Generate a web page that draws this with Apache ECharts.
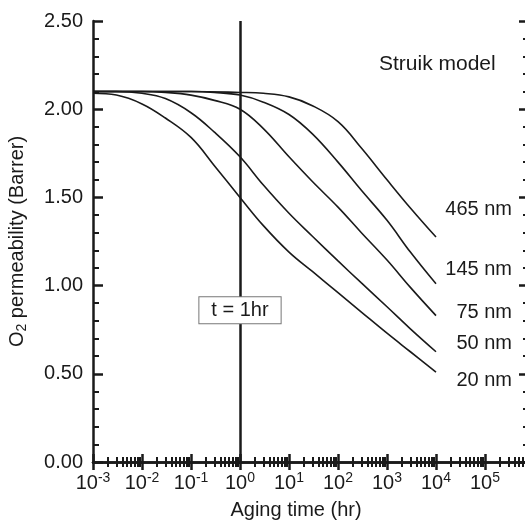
<!DOCTYPE html>
<html>
<head>
<meta charset="utf-8">
<script src="https://cdn.jsdelivr.net/npm/echarts@6/dist/echarts.min.js"></script>
<style>
  html, body { margin: 0; padding: 0; background: #fff; }
  #chart { width: 525px; height: 524px; }
</style>
</head>
<body>
<div id="chart"></div>
<script>
// aging time (hr) and O2 permeability (Barrer)
let time20 = [0.001, 0.003, 0.01, 0.03, 0.1, 0.3, 1, 3, 10, 30, 100, 300, 1000, 3000, 10000];
let perm20 = [2.09, 2.08, 2.03, 1.95, 1.84, 1.68, 1.50, 1.34, 1.19, 1.08, 0.96, 0.85, 0.73, 0.625, 0.51];

let time50 = [0.001, 0.003, 0.01, 0.03, 0.1, 0.3, 1, 3, 10, 30, 100, 300, 1000, 3000, 10000];
let perm50 = [2.10, 2.10, 2.09, 2.06, 1.98, 1.87, 1.73, 1.57, 1.41, 1.28, 1.14, 1.015, 0.88, 0.755, 0.625];

let time75 = [0.001, 0.01, 0.03, 0.1, 0.3, 1, 3, 10, 30, 100, 300, 1000, 3000, 10000];
let perm75 = [2.10, 2.10, 2.095, 2.08, 2.05, 2.0, 1.89, 1.73, 1.59, 1.445, 1.30, 1.145, 0.99, 0.83];

let time145 = [0.001, 0.01, 0.1, 0.3, 1, 3, 10, 30, 100, 300, 1000, 3000, 10000];
let perm145 = [2.10, 2.10, 2.10, 2.095, 2.08, 2.04, 1.97, 1.86, 1.70, 1.54, 1.37, 1.19, 1.01];

let time465 = [0.001, 0.01, 0.1, 1, 3, 10, 30, 100, 300, 1000, 3000, 10000];
let perm465 = [2.10, 2.10, 2.10, 2.095, 2.09, 2.07, 2.02, 1.93, 1.78, 1.60, 1.44, 1.275];

let curveNames = ['20 nm', '50 nm', '75 nm', '145 nm', '465 nm'];
let labelShift = [8, -8, -3, -14, -28];

let xMin = 0.001;
let xMax = 1000000;
let xLabelMax = 100000;
let yTicks = [0, 0.5, 1, 1.5, 2, 2.5];
let markTime = 1;
let markText = 't = 1hr';

let font = '"Liberation Sans", Arial, sans-serif';
let ink = '#1a1a1a';

let myChart = echarts.init(document.getElementById('chart'));

function pairs(xs, ys) {
  let res = [];
  for (let i = 0; i < xs.length; i++) {
    res.push([xs[i], ys[i]]);
  }
  return res;
}

function powLabel(v) {
  let e = Math.log10(v);
  if (Math.abs(e - Math.round(e)) > 1e-6 || v > xLabelMax * 1.001) {
    return '';
  }
  return '{b|10}{s|' + Math.round(e) + '}';
}

let allData = [
  pairs(time20, perm20),
  pairs(time50, perm50),
  pairs(time75, perm75),
  pairs(time145, perm145),
  pairs(time465, perm465)
];

let series = [];
for (let i = 0; i < allData.length; i++) {
  series.push({
    name: curveNames[i],
    type: 'line',
    data: allData[i],
    smooth: 0.4,
    showSymbol: false,
    silent: true,
    lineStyle: { color: ink, width: 1.6 },
    endLabel: {
      show: true,
      formatter: '{a}',
      align: 'right',
      offset: [68, labelShift[i]],
      color: ink,
      fontSize: 20,
      fontFamily: font
    }
  });
}

// vertical line at t = 1 hr with its boxed note
series[0].markLine = {
  silent: true,
  symbol: 'none',
  label: { show: false },
  lineStyle: { color: ink, width: 2.5, type: 'solid' },
  data: [{ xAxis: markTime }]
};
series[0].markPoint = {
  silent: true,
  symbol: 'rect',
  symbolSize: 0,
  label: {
    show: true,
    formatter: markText,
    color: ink,
    fontSize: 20,
    fontFamily: font,
    backgroundColor: '#fff',
    borderColor: '#777',
    borderWidth: 1,
    padding: [3, 12]
  },
  data: [{ coord: [markTime, 0.86] }]
};

let xTick = {
  show: true,
  inside: true,
  length: 8,
  lineStyle: { color: ink, width: 2.5 }
};
let xMinor = {
  show: true,
  splitNumber: 9,
  length: 5,
  lineStyle: { color: ink, width: 2 }
};

let option = {
  animation: false,
  textStyle: { fontFamily: font },
  title: {
    text: 'Struik model',
    left: 374,
    top: 49,
    textStyle: { color: ink, fontSize: 21, fontWeight: 'normal', fontFamily: font }
  },
  grid: {
    left: 93,
    top: 21,
    width: 441,
    height: 441,
    outerBoundsMode: 'none',
    containLabel: false
  },
  xAxis: [
    {
      type: 'log',
      logBase: 10,
      min: xMin,
      max: xMax,
      interval: 1,
      position: 'bottom',
      name: 'Aging time (hr)',
      nameLocation: 'middle',
      nameGap: 38,
      nameTextStyle: { color: ink, fontSize: 20, fontFamily: font, padding: [0, 35, 0, 0] },
      axisLine: { lineStyle: { color: ink, width: 2.5 } },
      axisTick: xTick,
      minorTick: xMinor,
      splitLine: { show: false },
      axisLabel: {
        margin: 9,
        formatter: powLabel,
        color: ink,
        rich: {
          b: { fontSize: 20, fontFamily: font, color: ink },
          s: { fontSize: 14, fontFamily: font, color: ink, padding: [0, 0, 10, 0] }
        }
      }
    },
    {
      type: 'log',
      logBase: 10,
      min: xMin,
      max: xMax,
      interval: 1,
      position: 'top',
      axisLine: { lineStyle: { color: ink, width: 2.5 } },
      axisTick: xTick,
      minorTick: xMinor,
      splitLine: { show: false },
      axisLabel: { show: false }
    }
  ],
  yAxis: [
    {
      type: 'value',
      min: yTicks[0],
      max: yTicks[yTicks.length - 1],
      interval: 0.5,
      position: 'left',
      name: 'O{sub|2} permeability (Barrer)',
      nameLocation: 'middle',
      nameGap: 64,
      nameTextStyle: {
        color: ink,
        fontSize: 20,
        fontFamily: font,
        rich: {
          sub: { fontSize: 14, fontFamily: font, color: ink, padding: [10, 0, 0, 0] }
        }
      },
      axisLine: { show: true, lineStyle: { color: ink, width: 2.5 } },
      axisTick: { show: true, inside: true, length: 10, lineStyle: { color: ink, width: 2.5 } },
      minorTick: { show: true, splitNumber: 5, length: 6, lineStyle: { color: ink, width: 2 } },
      splitLine: { show: false },
      axisLabel: {
        margin: 10,
        color: ink,
        fontSize: 20,
        fontFamily: font,
        formatter: function (v) { return v.toFixed(2); }
      }
    },
    {
      type: 'value',
      min: yTicks[0],
      max: yTicks[yTicks.length - 1],
      interval: 0.5,
      position: 'right',
      offset: -7,
      axisLine: { show: true, lineStyle: { color: ink, width: 2.5 } },
      axisTick: { show: true, inside: true, length: 8, lineStyle: { color: ink, width: 2.5 } },
      minorTick: { show: true, splitNumber: 5, length: 4, lineStyle: { color: ink, width: 2 } },
      splitLine: { show: false },
      axisLabel: { show: false }
    }
  ],
  series: series
};

myChart.setOption(option);
</script>
</body>
</html>
